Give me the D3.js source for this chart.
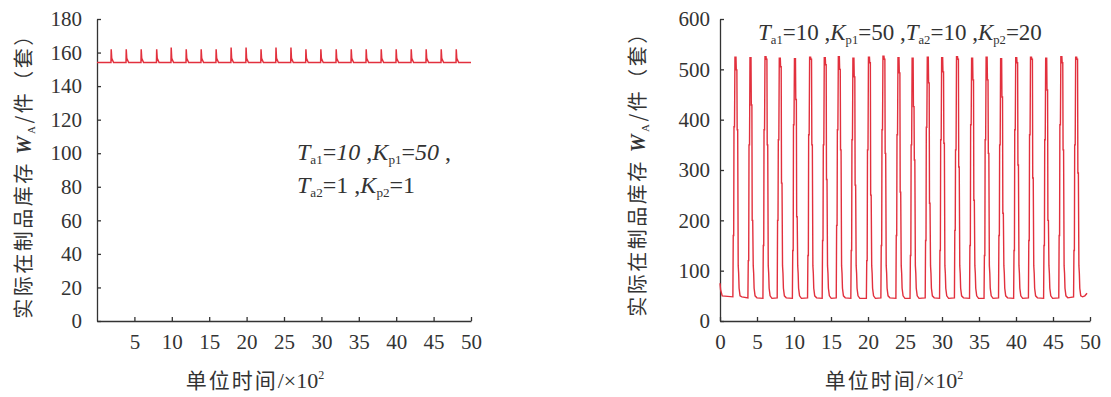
<!DOCTYPE html>
<html>
<head>
<meta charset="utf-8">
<script src="https://cdn.jsdelivr.net/npm/d3@7"></script>
<style>
  body { margin: 0; background: #fff; }
  .axis path, .axis line { stroke: #333; stroke-width: 1.3; }
  svg text.num { font-family: "Liberation Serif", "DejaVu Serif", serif !important; }
</style>
</head>
<body>
<div id="chart"></div>
<script>
// left chart: Ta2=1, Kp2=1
var leftTicksY = [0, 20, 40, 60, 80, 100, 120, 140, 160, 180];
var leftTicksX = [5, 10, 15, 20, 25, 30, 35, 40, 45, 50];
var leftBase = 154;
var leftSpikeT = [1.87, 3.88, 5.88, 7.95, 9.89, 11.9, 13.9, 15.9, 17.9, 19.9, 21.9, 23.9,
                  25.9, 27.9, 29.9, 31.95, 33.96, 35.96, 37.97, 39.97, 41.98, 43.98, 45.99, 48.0];
var leftSpikePeak = [162, 162, 162, 162, 163, 162, 162, 162, 163, 163, 162, 163,
                     163, 162, 162, 162, 162, 162, 162, 162, 162, 162, 162, 162];
var leftEndT = 50;

// right chart: Ta2=10, Kp2=20
var rightTicksY = [0, 100, 200, 300, 400, 500, 600];
var rightTicksX = [0, 5, 10, 15, 20, 25, 30, 35, 40, 45, 50];
var rightStart = [[0, 75], [0.08, 62], [0.3, 50]];
var pulseT = [2.16, 4.19, 6.22, 8.15, 10.2, 12.25, 14.23, 16.13, 18.1, 20.2, 22.16, 24.19,
              26.1, 28.15, 30.09, 32.1, 34.14, 36.1, 38.06, 40.1, 42.1, 44.15, 46.2, 48.2];
var pulsePeak = [524, 523, 525, 522, 521, 524, 523, 525, 522, 524, 526, 523,
                 522, 524, 523, 525, 522, 524, 521, 523, 524, 522, 525, 524];
var riseLow = [170, 120, 150, 200, 140, 130, 160, 190, 140, 120, 150, 170,
               130, 160, 140, 180, 150, 130, 170, 140, 160, 150, 170, 140];
var riseHigh = [386, 350, 380, 360, 390, 370, 350, 380, 360, 340, 380, 370,
                350, 385, 360, 340, 390, 360, 350, 380, 370, 360, 390, 350];
var fallHigh = [499, 429, 520, 505, 440, 520, 509, 500, 485, 513, 520, 493,
                426, 473, 495, 520, 479, 479, 445, 513, 520, 459, 513, 520];
var fallLow = [380, 200, 350, 274, 207, 350, 281, 340, 270, 250, 333, 256,
               320, 234, 353, 306, 240, 333, 214, 310, 284, 200, 340, 294];
var troughLow = [48, 46, 45, 46, 45, 46, 45, 46, 45, 45, 46, 45,
                 45, 46, 45, 46, 45, 45, 46, 45, 46, 45, 46, 48];
var rightEnd = [[49.3, 50], [49.6, 55]];

var W = 1111, H = 397;
var svg = d3.select("#chart").append("svg").attr("width", W).attr("height", H);
var red = "#e2303d";
var serif = "Liberation Serif, DejaVu Serif, serif";
var cjk = "Noto Sans CJK SC, sans-serif";

function drawAxes(x, y, ticksX, ticksY, padY) {
  var gy = svg.append("g").attr("class", "axis")
    .attr("transform", "translate(" + x.range()[0] + ",0)")
    .call(d3.axisLeft(y).tickValues(ticksY).tickSizeInner(-4).tickSizeOuter(0).tickPadding(padY));
  var gx = svg.append("g").attr("class", "axis")
    .attr("transform", "translate(0," + y.range()[0] + ")")
    .call(d3.axisBottom(x).tickValues(ticksX).tickSizeInner(-4).tickSizeOuter(0).tickPadding(13));
  [gy, gx].forEach(function(g) {
    g.attr("font-family", serif).attr("font-size", 21);
    g.selectAll("text").attr("class", "num").attr("font-family", serif).attr("fill", "#333");
  });
}

function yLabel(cx, cy) {
  var t = svg.append("text")
    .attr("transform", "translate(" + cx + "," + cy + ") rotate(-90)")
    .attr("text-anchor", "middle").attr("dy", "0.35em")
    .style("font-size", "20px").style("fill", "#333").style("letter-spacing", "2.5px");
  t.append("tspan").style("font-family", cjk).text("实际在制品库存 ");
  t.append("tspan").style("font-family", serif).style("font-style", "italic").style("font-weight", "bold").text("W");
  t.append("tspan").style("font-family", serif).style("font-size", "11px").attr("dy", 4).text("A");
  t.append("tspan").style("font-family", cjk).attr("dy", -4).text("/件（套）");
}

function xLabel(cx, by) {
  var t = svg.append("text").attr("x", cx).attr("y", by)
    .attr("text-anchor", "middle").style("font-size", "21px").style("fill", "#333");
  t.append("tspan").style("font-family", cjk).style("letter-spacing", "2px").text("单位时间");
  t.append("tspan").style("font-family", serif).style("font-size", "22px").text("/×10");
  t.append("tspan").style("font-family", serif).style("font-size", "12px").attr("dy", -9).text("2");
}

// segments: [text, kind] kind: "" normal, "i" italic, "s" subscript
function note(x0, y0, segs, size) {
  var t = svg.append("text").attr("x", x0).attr("y", y0)
    .style("font-family", serif).style("font-size", size + "px").style("fill", "#333");
  var sub = false;
  segs.forEach(function(s) {
    var ts = t.append("tspan").text(s[0]);
    if (s[1] === "i") ts.style("font-style", "italic");
    if (s[1] === "s") { ts.style("font-size", (size * 0.55) + "px"); if (!sub) ts.attr("dy", 4); sub = true; }
    else if (sub) { ts.attr("dy", -4); sub = false; }
  });
}

// ---------- left ----------
var xL = d3.scaleLinear().domain([0, 50]).range([97, 471]);
var yL = d3.scaleLinear().domain([0, 180]).range([321, 19]);
drawAxes(xL, yL, leftTicksX, leftTicksY, 15);

var leftPts = [[0, leftBase]];
leftSpikeT.forEach(function(t, i) {
  leftPts.push([t, leftBase], [t + 0.03, leftSpikePeak[i]], [t + 0.1, leftBase + 2.5], [t + 0.35, leftBase]);
});
leftPts.push([leftEndT, leftBase]);
svg.append("path").datum(leftPts)
  .attr("fill", "none").attr("stroke", red).attr("stroke-width", 1.5)
  .attr("d", d3.line().x(function(d) { return xL(d[0]); }).y(function(d) { return yL(d[1]); }));

yLabel(24, 171);
xLabel(255, 388);
note(297, 160, [["T", "i"], ["a1", "s"], ["=", ""], ["10", "i"], [" ,", ""], ["K", "i"], ["p1", "s"], ["=", ""], ["50", "i"], [" ,", ""]], 24);
note(297, 193, [["T", "i"], ["a2", "s"], ["=1 ,", ""], ["K", "i"], ["p2", "s"], ["=1", ""]], 24);

// ---------- right ----------
var xR = d3.scaleLinear().domain([0, 50]).range([720, 1090]);
var yR = d3.scaleLinear().domain([0, 600]).range([321, 19]);
drawAxes(xR, yR, rightTicksX, rightTicksY, 10);

var rightPts = rightStart.slice();
pulseT.forEach(function(p, i) {
  var lo = troughLow[i];
  rightPts.push(
    [p - 0.42, lo], [p - 0.37, riseLow[i]], [p - 0.31, riseLow[i]],
    [p - 0.27, riseHigh[i]], [p - 0.2, riseHigh[i]], [p - 0.14, pulsePeak[i]],
    [p, pulsePeak[i]], [p + 0.04, fallHigh[i]], [p + 0.12, fallHigh[i]],
    [p + 0.16, fallLow[i]], [p + 0.23, fallLow[i]], [p + 0.3, 110],
    [p + 0.36, 95], [p + 0.42, 65], [p + 0.55, 50], [p + 0.8, lo]
  );
});
rightEnd.forEach(function(d) { rightPts.push(d); });
svg.append("path").datum(rightPts)
  .attr("fill", "none").attr("stroke", red).attr("stroke-width", 1.4)
  .attr("d", d3.line().x(function(d) { return xR(d[0]); }).y(function(d) { return yR(d[1]); }));

yLabel(638, 169);
xLabel(894, 388);
note(758, 40, [["T", "i"], ["a1", "s"], ["=10 ,", ""], ["K", "i"], ["p1", "s"], ["=50 ,", ""], ["T", "i"], ["a2", "s"], ["=10 ,", ""], ["K", "i"], ["p2", "s"], ["=20", ""]], 23);
</script>
</body>
</html>
